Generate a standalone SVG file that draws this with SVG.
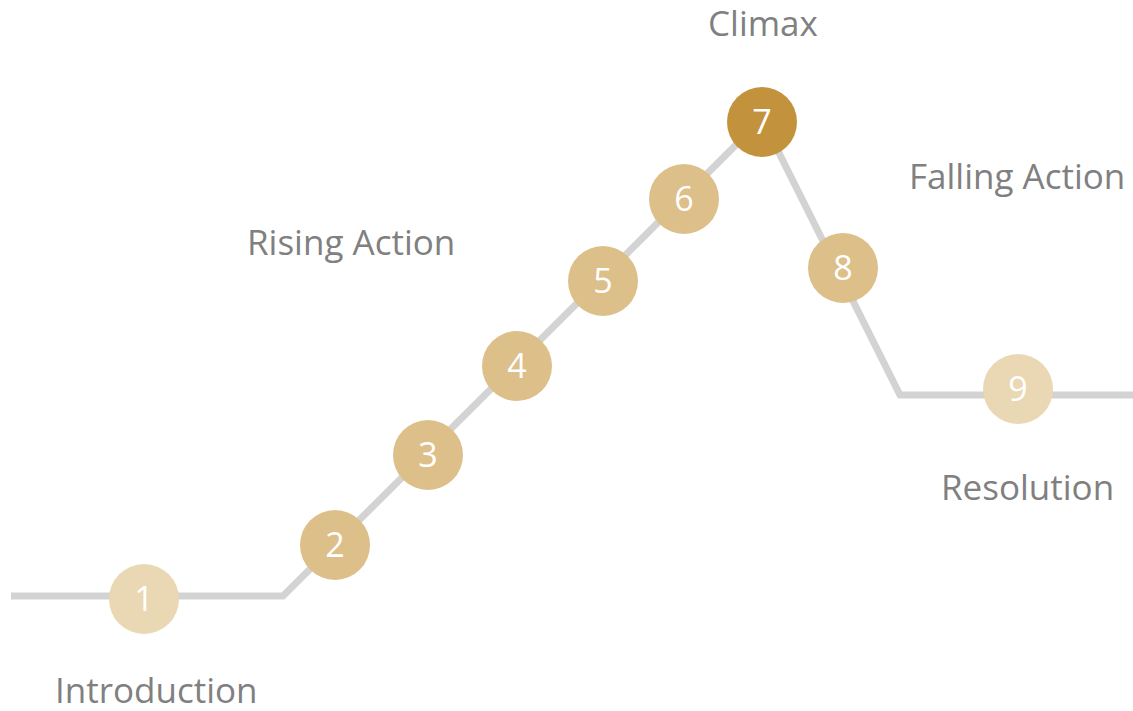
<svg xmlns="http://www.w3.org/2000/svg" width="1133" height="711" viewBox="0 0 1133 711">
<style>
.lbl{font-family:"Open Sans","Liberation Sans",sans-serif;font-size:35px;fill:#808080}
.num{font-family:"Open Sans","Liberation Sans",sans-serif;font-size:34px;fill:#ffffff;text-anchor:middle}
.c-light{fill:#EAD7B3}
.c-mid{fill:#DDBF8A}
.c-dark{fill:#C3923C}
</style>
<rect width="1133" height="711" fill="#ffffff"/>
<g id="connectors">
<polyline points="11,596 283,596 762,119 900,395 1133,395" fill="none" stroke="#d3d3d3" stroke-width="7"/>
</g>
<g id="node1"><circle class="c-light" cx="144" cy="599" r="35"/><text class="num" x="144" y="611">1</text></g>
<g id="node2"><circle class="c-mid" cx="335" cy="545" r="35"/><text class="num" x="335" y="557">2</text></g>
<g id="node3"><circle class="c-mid" cx="428" cy="455" r="35"/><text class="num" x="428" y="467">3</text></g>
<g id="node4"><circle class="c-mid" cx="517" cy="366" r="35"/><text class="num" x="517" y="378">4</text></g>
<g id="node5"><circle class="c-mid" cx="603" cy="281" r="35"/><text class="num" x="603" y="293">5</text></g>
<g id="node6"><circle class="c-mid" cx="684" cy="199" r="35"/><text class="num" x="684" y="211">6</text></g>
<g id="node7"><circle class="c-dark" cx="762" cy="122" r="35"/><text class="num" x="762" y="134">7</text></g>
<g id="node8"><circle class="c-mid" cx="843" cy="268" r="35"/><text class="num" x="843" y="280">8</text></g>
<g id="node9"><circle class="c-light" cx="1018" cy="389" r="35"/><text class="num" x="1018" y="401">9</text></g>
<g id="labels">
<text class="lbl" x="55" y="703">Introduction</text>
<text class="lbl" x="247" y="255">Rising Action</text>
<text class="lbl" x="708" y="36">Climax</text>
<text class="lbl" x="909" y="189">Falling Action</text>
<text class="lbl" x="941" y="500">Resolution</text>
</g>
</svg>
